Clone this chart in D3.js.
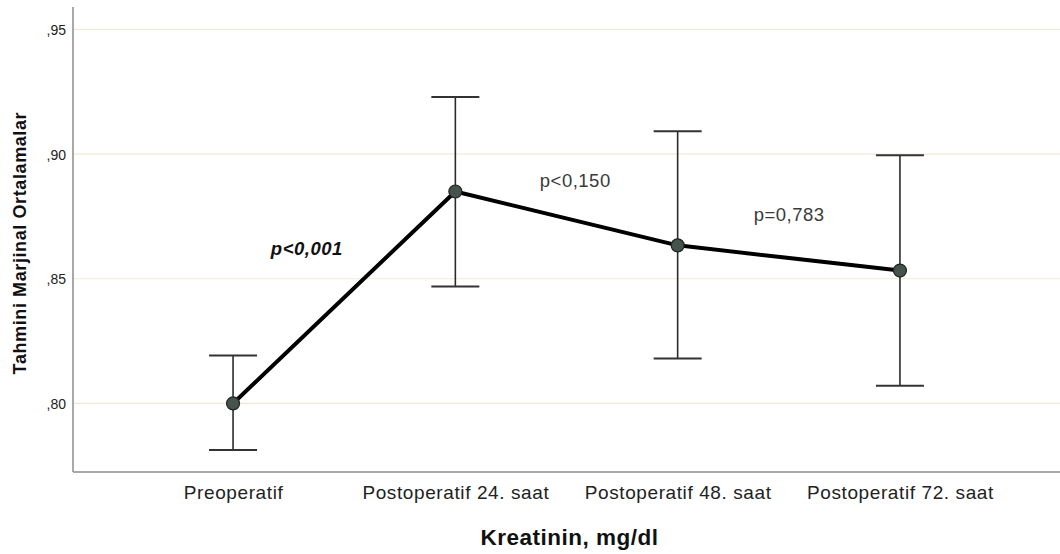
<!DOCTYPE html>
<html>
<head>
<meta charset="utf-8">
<script src="https://cdn.jsdelivr.net/npm/d3@7"></script>
<style>
  html, body { margin: 0; padding: 0; background: #fff; }
  svg { display: block; }
  text { font-family: "Liberation Sans", Arial, sans-serif; }
</style>
</head>
<body>
<svg id="chart" width="1060" height="554"></svg>
<script>
const categories = ["Preoperatif", "Postoperatif 24. saat", "Postoperatif 48. saat", "Postoperatif 72. saat"];
const means = [0.800, 0.885, 0.8634, 0.8533];
const upperCI = [0.8192, 0.9229, 0.9092, 0.8995];
const lowerCI = [0.7813, 0.8469, 0.8180, 0.8071];
const yTicks = [0.80, 0.85, 0.90, 0.95];
const yTickLabels = [",80", ",85", ",90", ",95"];
const annotations = [
  { text: "p<0,001", between: [0, 1], style: "bolditalic" },
  { text: "p<0,150", between: [1, 2], style: "normal" },
  { text: "p=0,783", between: [2, 3], style: "normal" }
];
const xTitle = "Kreatinin, mg/dl";
const yTitle = "Tahmini Marjinal Ortalamalar";

const W = 1060, H = 554;
const margin = { left: 73, right: 0, top: 7, bottom: 82 };
const svg = d3.select("#chart");

const x = d3.scalePoint().domain(categories).range([margin.left, W - margin.right]).padding(0.72);
const y = d3.scaleLinear().domain([0.7725, 0.959]).range([H - margin.bottom, margin.top]);

const data = categories.map((c, i) => ({ c, m: means[i], hi: upperCI[i], lo: lowerCI[i] }));

// gridlines
svg.append("g").selectAll("line").data(yTicks).join("line")
  .attr("x1", margin.left).attr("x2", W)
  .attr("y1", d => y(d)).attr("y2", d => y(d))
  .attr("stroke", "#efead8").attr("stroke-width", 1.2);

// y axis
const yAxis = d3.axisLeft(y).tickValues(yTicks).tickFormat((d, i) => yTickLabels[i]).tickSize(0).tickPadding(7);
const gy = svg.append("g").attr("transform", `translate(${margin.left},0)`).call(yAxis);
gy.select(".domain").remove();
gy.selectAll("text").attr("font-size", 14).attr("fill", "#222").attr("dy", "0.35em");
svg.append("line").attr("x1", margin.left).attr("x2", margin.left)
  .attr("y1", margin.top).attr("y2", H - margin.bottom)
  .attr("stroke", "#8c8c8c").attr("stroke-width", 1.5);

// x axis
const xAxis = d3.axisBottom(x).tickSize(0).tickPadding(14);
const gx = svg.append("g").attr("transform", `translate(0,${H - margin.bottom})`).call(xAxis);
gx.select(".domain").remove();
gx.selectAll("text").attr("font-size", 19).attr("letter-spacing", "0.6px").attr("fill", "#222");
svg.append("line").attr("x1", margin.left).attr("x2", W)
  .attr("y1", H - margin.bottom).attr("y2", H - margin.bottom)
  .attr("stroke", "#8c8c8c").attr("stroke-width", 1.5);

// error bars
const eb = svg.append("g");
eb.selectAll(".v").data(data).join("line")
  .attr("x1", d => x(d.c)).attr("x2", d => x(d.c))
  .attr("y1", d => y(d.hi)).attr("y2", d => y(d.lo))
  .attr("stroke", "#2b2b2b").attr("stroke-width", 1.6);
["hi", "lo"].forEach(k => {
  eb.selectAll(".cap" + k).data(data).join("line")
    .attr("x1", d => x(d.c) - 24).attr("x2", d => x(d.c) + 24)
    .attr("y1", d => y(d[k])).attr("y2", d => y(d[k]))
    .attr("stroke", "#333").attr("stroke-width", 2);
});

// line
svg.append("path").datum(data)
  .attr("d", d3.line().x(d => x(d.c)).y(d => y(d.m)))
  .attr("fill", "none").attr("stroke", "#000").attr("stroke-width", 4).attr("stroke-linejoin", "round");

// markers
svg.append("g").selectAll("circle").data(data).join("circle")
  .attr("cx", d => x(d.c)).attr("cy", d => y(d.m)).attr("r", 6.5)
  .attr("fill", "#46524c").attr("stroke", "#1e2421").attr("stroke-width", 1.2);

// annotations
const annPos = [
  { dx: 0.17, dy: 0.8594 },
  { dx: 0.38, dy: 0.8867 },
  { dx: 0.342, dy: 0.8730 }
];
svg.append("g").selectAll("text").data(annotations).join("text")
  .attr("x", (d, i) => x(categories[d.between[0]]) + annPos[i].dx * (x(categories[d.between[1]]) - x(categories[d.between[0]])))
  .attr("y", (d, i) => y(annPos[i].dy))
  .attr("font-size", 18.5)
  .attr("letter-spacing", "0.5px")
  .attr("font-weight", d => d.style === "bolditalic" ? "bold" : "normal")
  .attr("font-style", d => d.style === "bolditalic" ? "italic" : "normal")
  .attr("fill", d => d.style === "bolditalic" ? "#111" : "#3a3a3a")
  .text(d => d.text);

// axis titles
svg.append("text")
  .attr("x", (margin.left + W) / 2 + 3).attr("y", 545)
  .attr("text-anchor", "middle")
  .attr("font-size", 22.5).attr("font-weight", "bold").attr("letter-spacing", "0.5px")
  .attr("fill", "#111").text(xTitle);

svg.append("text")
  .attr("transform", `translate(26,${y(0.8643)}) rotate(-90)`)
  .attr("text-anchor", "middle")
  .attr("font-size", 18).attr("font-weight", "bold").attr("letter-spacing", "0.6px")
  .attr("fill", "#111").text(yTitle);
</script>
</body>
</html>
